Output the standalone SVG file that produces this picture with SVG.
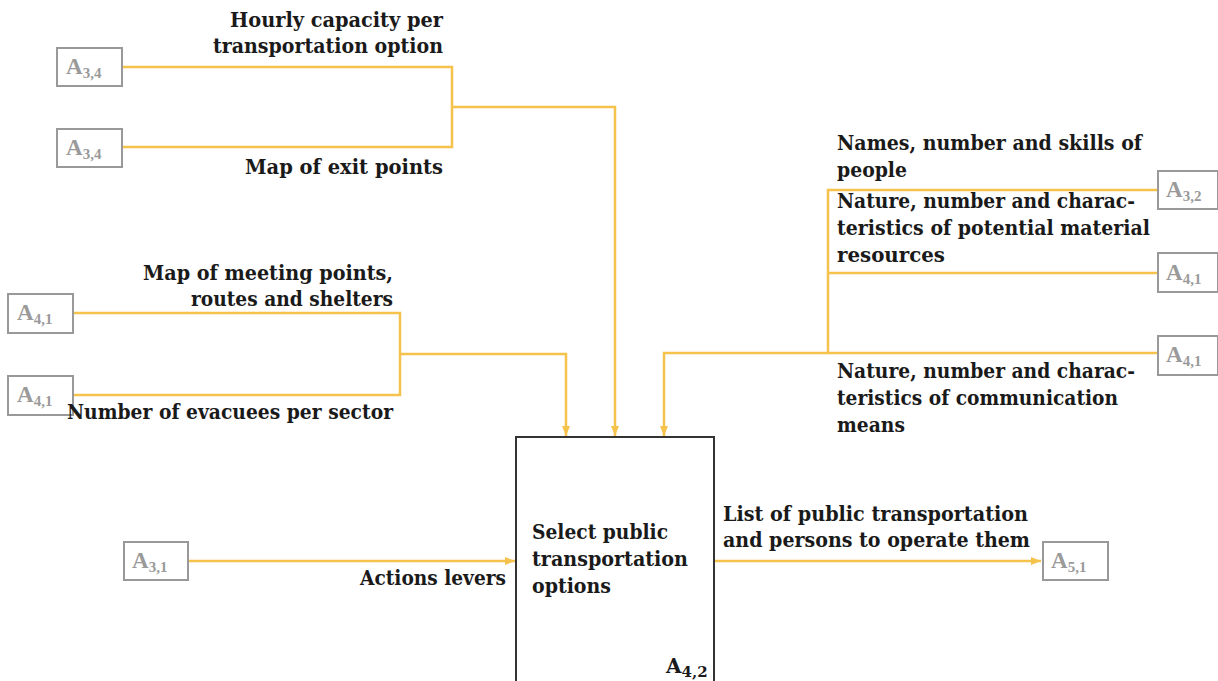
<svg xmlns="http://www.w3.org/2000/svg" width="1218" height="681" viewBox="0 0 1218 681">
  <style>
    .lbl { font-family: "DejaVu Serif", "Liberation Serif", serif; font-size: 20px; font-weight: bold; fill: #1a1a1a; }
    .ref rect { fill: #fff; stroke: #999; stroke-width: 2; }
    .ref text { font-family: "Liberation Serif", "DejaVu Serif", serif; font-size: 23px; font-weight: bold; fill: #9a9a9a; }
    .ref .sub { font-size: 15px; }
    .conn { fill: none; stroke: #F5C24C; stroke-width: 2.5; }
  </style>
  <defs>
    <marker id="arrow" markerWidth="10" markerHeight="8" refX="10" refY="4" orient="auto" markerUnits="userSpaceOnUse">
      <path d="M0,0 L10,4 L0,8 Z" fill="#F5C24C"/>
    </marker>
  </defs>

  <rect width="1218" height="681" fill="#fff"/>

  <!-- connectors -->
  <g id="connectors" class="conn">
    <path d="M122,67 H452 V147 H122"/>
    <path d="M452,107 H615 V436" marker-end="url(#arrow)"/>
    <path d="M73,313 H400 V395 H73"/>
    <path d="M400,354 H566 V436" marker-end="url(#arrow)"/>
    <path d="M1158,190 H828 V353 H1158"/>
    <path d="M828,273 H1158"/>
    <path d="M828,353 H664 V436" marker-end="url(#arrow)"/>
    <path d="M188,561 H515" marker-end="url(#arrow)"/>
    <path d="M714,561 H1041" marker-end="url(#arrow)"/>
  </g>

  <!-- main activity -->
  <g id="activity-a42">
    <rect x="516" y="437" width="198" height="260" fill="#fff" stroke="#333" stroke-width="2"/>
    <text class="lbl" x="532" y="539" textLength="136" lengthAdjust="spacingAndGlyphs">Select public</text>
    <text class="lbl" x="532" y="566" textLength="156" lengthAdjust="spacingAndGlyphs">transportation</text>
    <text class="lbl" x="532" y="593" textLength="79" lengthAdjust="spacingAndGlyphs">options</text>
    <text class="lbl" x="666" y="673" font-size="22">A<tspan font-size="15" dy="4">4,2</tspan></text>
  </g>

  <!-- references -->
  <g id="ref-a34-top" class="ref">
    <rect x="57" y="48" width="65" height="38"/>
    <text x="66" y="74">A<tspan class="sub" dy="4">3,4</tspan></text>
  </g>
  <g id="ref-a34-bottom" class="ref">
    <rect x="57" y="129" width="65" height="38"/>
    <text x="66" y="155">A<tspan class="sub" dy="4">3,4</tspan></text>
  </g>
  <g id="ref-a41-left-top" class="ref">
    <rect x="8" y="294" width="65" height="39"/>
    <text x="17" y="320">A<tspan class="sub" dy="4">4,1</tspan></text>
  </g>
  <g id="ref-a41-left-bottom" class="ref">
    <rect x="8" y="376" width="65" height="39"/>
    <text x="17" y="402">A<tspan class="sub" dy="4">4,1</tspan></text>
  </g>
  <g id="ref-a32" class="ref">
    <rect x="1158" y="171" width="60" height="38"/>
    <text x="1166" y="197">A<tspan class="sub" dy="4">3,2</tspan></text>
  </g>
  <g id="ref-a41-right-top" class="ref">
    <rect x="1158" y="253" width="60" height="39"/>
    <text x="1166" y="280">A<tspan class="sub" dy="4">4,1</tspan></text>
  </g>
  <g id="ref-a41-right-bottom" class="ref">
    <rect x="1158" y="336" width="60" height="39"/>
    <text x="1166" y="362">A<tspan class="sub" dy="4">4,1</tspan></text>
  </g>
  <g id="ref-a31" class="ref">
    <rect x="124" y="542" width="64" height="38"/>
    <text x="132" y="568">A<tspan class="sub" dy="4">3,1</tspan></text>
  </g>
  <g id="ref-a51" class="ref">
    <rect x="1043" y="542" width="65" height="38"/>
    <text x="1051" y="568">A<tspan class="sub" dy="4">5,1</tspan></text>
  </g>

  <!-- flow labels -->
  <g id="labels" lengthAdjust="spacingAndGlyphs">
    <text class="lbl" x="230" y="27" textLength="213" lengthAdjust="spacingAndGlyphs">Hourly capacity per</text>
    <text class="lbl" x="213" y="53" textLength="230" lengthAdjust="spacingAndGlyphs">transportation option</text>
    <text class="lbl" x="245" y="174" textLength="198" lengthAdjust="spacingAndGlyphs">Map of exit points</text>
    <text class="lbl" x="143" y="280" textLength="250" lengthAdjust="spacingAndGlyphs">Map of meeting points,</text>
    <text class="lbl" x="191" y="306" textLength="202" lengthAdjust="spacingAndGlyphs">routes and shelters</text>
    <text class="lbl" x="67" y="419" textLength="326" lengthAdjust="spacingAndGlyphs">Number of evacuees per sector</text>
    <text class="lbl" x="837" y="150" textLength="305" lengthAdjust="spacingAndGlyphs">Names, number and skills of</text>
    <text class="lbl" x="837" y="177" textLength="70" lengthAdjust="spacingAndGlyphs">people</text>
    <text class="lbl" x="837" y="208" textLength="298" lengthAdjust="spacingAndGlyphs">Nature, number and charac-</text>
    <text class="lbl" x="837" y="235" textLength="313" lengthAdjust="spacingAndGlyphs">teristics of potential material</text>
    <text class="lbl" x="837" y="262" textLength="108" lengthAdjust="spacingAndGlyphs">resources</text>
    <text class="lbl" x="837" y="378" textLength="298" lengthAdjust="spacingAndGlyphs">Nature, number and charac-</text>
    <text class="lbl" x="837" y="405" textLength="281" lengthAdjust="spacingAndGlyphs">teristics of communication</text>
    <text class="lbl" x="837" y="432" textLength="68" lengthAdjust="spacingAndGlyphs">means</text>
    <text class="lbl" x="360" y="585" textLength="146" lengthAdjust="spacingAndGlyphs">Actions levers</text>
    <text class="lbl" x="723" y="521" textLength="305" lengthAdjust="spacingAndGlyphs">List of public transportation</text>
    <text class="lbl" x="723" y="547" textLength="307" lengthAdjust="spacingAndGlyphs">and persons to operate them</text>
  </g>
</svg>
